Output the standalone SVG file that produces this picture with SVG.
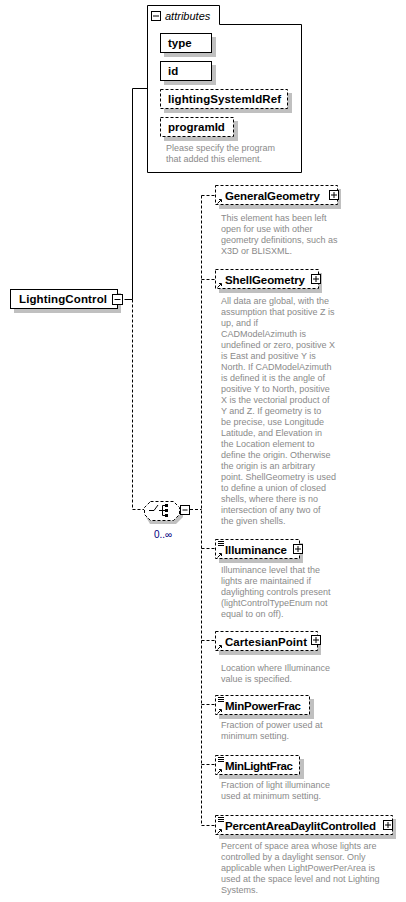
<svg xmlns="http://www.w3.org/2000/svg" width="406" height="902" viewBox="0 0 406 902">
<style>
.bg{fill:#fff}
.sh{fill:#c0c0c0}
.box{fill:#fff;stroke:#000;stroke-width:1}
.dbox{fill:#fff;stroke:#000;stroke-width:1;stroke-dasharray:3,2}
.name{font-family:"Liberation Sans",Arial,sans-serif;font-size:11.5px;font-weight:bold;fill:#000}
.desc{font-family:"Liberation Sans",Arial,sans-serif;font-size:9px;fill:#8a8a8a}
.ln{fill:none;stroke:#000;stroke-width:1}
.dln{fill:none;stroke:#000;stroke-width:1;stroke-dasharray:3,2}
.ic{fill:#fff;stroke:#000;stroke-width:1}
</style>
<rect class="bg" x="0" y="0" width="406" height="902"/>
<g id="connectors">
<path class="ln" d="M124.5,299.5 H132.5 V88.5 H147"/>
<path class="dln" d="M132.5,299.5 V509.5 H144"/>
<path class="dln" d="M190,509.5 H201.5"/>
<path class="dln" d="M201.5,195.5 V825.5"/>
<path class="dln" d="M201.5,195.5 H215"/>
<path class="dln" d="M201.5,279.5 H215"/>
<path class="dln" d="M201.5,548.5 H215"/>
<path class="dln" d="M201.5,640.5 H215"/>
<path class="dln" d="M201.5,704.5 H215"/>
<path class="dln" d="M201.5,764.5 H215"/>
<path class="dln" d="M201.5,825.5 H215"/>
</g>
<g id="attributes">
<path class="ln" d="M147.5,5.5 H219.5 V24.5 H301.5 V172.5 H147.5 Z"/>
<rect class="ic" x="151.5" y="11.5" width="9" height="9"/>
<path class="ln" d="M153,16 H159"/>
<text x="165" y="20" font-family="Liberation Sans,Arial,sans-serif" font-size="11" font-style="italic">attributes</text>
</g>
<g id="attr-type">
<rect class="sh" x="164" y="37" width="52" height="20"/>
<rect class="box" x="160.5" y="33.5" width="51" height="19"/>
<text class="name" x="168" y="47">type</text>
</g>
<g id="attr-id">
<rect class="sh" x="164" y="65" width="52" height="20"/>
<rect class="box" x="160.5" y="61.5" width="51" height="19"/>
<text class="name" x="168" y="75">id</text>
</g>
<g id="attr-lightingSystemIdRef">
<rect class="sh" x="164" y="93" width="128" height="20"/>
<rect class="dbox" x="160.5" y="89.5" width="127" height="19"/>
<text class="name" x="168" y="103" textLength="113">lightingSystemIdRef</text>
</g>
<g id="attr-programId">
<rect class="sh" x="164" y="121" width="74" height="20"/>
<rect class="dbox" x="160.5" y="117.5" width="73" height="19"/>
<text class="name" x="168" y="131">programId</text>
<text class="desc" x="166" y="151">Please specify the program</text>
<text class="desc" x="166" y="162">that added this element.</text>
</g>
<g id="LightingControl">
<rect class="sh" x="14" y="293" width="107" height="20"/>
<rect class="box" x="10.5" y="289.5" width="107" height="19"/>
<text class="name" x="19" y="303" textLength="88">LightingControl</text>
<rect class="ic" x="112.5" y="294.5" width="10" height="10"/>
<path class="ln" d="M114.5,299.5 H120.5"/>
</g>
<g id="choice">
<path class="sh" d="M150,505 H176 L183,511 V517 L176,524 H150 L146,517 V511 Z"/>
<path class="dbox" d="M150.5,501.5 H173.5 L179.5,507.5 V514.5 L173.5,520.5 H150.5 L144.5,514.5 V507.5 Z"/>
<path class="ln" d="M149,510.5 H154 L158,505 M159,510.5 H162.5 M162.5,505.5 V515.5 M162.5,505.5 H165 M162.5,510.5 H165 M162.5,515.5 H165"/>
<rect x="165" y="504" width="3" height="3" fill="#000"/>
<rect x="165" y="509" width="3" height="3" fill="#000"/>
<rect x="165" y="514" width="3" height="3" fill="#000"/>
<rect class="ic" x="180.5" y="505.5" width="9" height="9"/>
<path class="ln" d="M182.5,510 H187.5"/>
<text x="154" y="538" font-family="Liberation Sans,Arial,sans-serif" font-size="10" fill="#000080">0..∞</text>
</g>
<g id="GeneralGeometry">
<rect class="sh" x="219" y="189" width="122" height="20"/>
<rect class="dbox" x="215.5" y="185.5" width="122" height="19"/>
<path class="ln" d="M217.5,203.5 L221,200 M219,199.5 H221.5 V202"/>
<text class="name" x="225" y="200" textLength="95">GeneralGeometry</text>
<rect class="ic" x="329.5" y="190.5" width="9" height="9"/>
<path class="ln" d="M331,195 H337 M334,192 V198"/>
<text class="desc" x="221" y="221">This element has been left</text>
<text class="desc" x="221" y="232">open for use with other</text>
<text class="desc" x="221" y="243">geometry definitions, such as</text>
<text class="desc" x="221" y="254">X3D or BLISXML.</text>
</g>
<g id="ShellGeometry">
<rect class="sh" x="219" y="273" width="103" height="20"/>
<rect class="dbox" x="215.5" y="269.5" width="103" height="19"/>
<path class="ln" d="M217.5,287.5 L221,284 M219,283.5 H221.5 V286"/>
<text class="name" x="225" y="284" textLength="80">ShellGeometry</text>
<rect class="ic" x="311.5" y="274.5" width="9" height="9"/>
<path class="ln" d="M313,279 H319 M316,276 V282"/>
<text class="desc" x="221" y="304">All data are global, with the</text>
<text class="desc" x="221" y="315">assumption that positive Z is</text>
<text class="desc" x="221" y="326">up, and if</text>
<text class="desc" x="221" y="337">CADModelAzimuth is</text>
<text class="desc" x="221" y="348">undefined or zero, positive X</text>
<text class="desc" x="221" y="359">is East and positive Y is</text>
<text class="desc" x="221" y="370">North. If CADModelAzimuth</text>
<text class="desc" x="221" y="381">is defined it is the angle of</text>
<text class="desc" x="221" y="392">positive Y to North, positive</text>
<text class="desc" x="221" y="403">X is the vectorial product of</text>
<text class="desc" x="221" y="414">Y and Z. If geometry is to</text>
<text class="desc" x="221" y="425">be precise, use Longitude</text>
<text class="desc" x="221" y="436">Latitude, and Elevation in</text>
<text class="desc" x="221" y="447">the Location element to</text>
<text class="desc" x="221" y="458">define the origin. Otherwise</text>
<text class="desc" x="221" y="469">the origin is an arbitrary</text>
<text class="desc" x="221" y="480">point. ShellGeometry is used</text>
<text class="desc" x="221" y="491">to define a union of closed</text>
<text class="desc" x="221" y="502">shells, where there is no</text>
<text class="desc" x="221" y="513">intersection of any two of</text>
<text class="desc" x="221" y="524">the given shells.</text>
</g>
<g id="Illuminance">
<rect class="sh" x="219" y="543" width="84" height="20"/>
<rect class="dbox" x="215.5" y="539.5" width="84" height="19"/>
<path class="ln" d="M218,541.5 H224 M218,543.5 H224 M218,545.5 H224"/>
<path class="ln" d="M217.5,557.5 L221,554 M219,553.5 H221.5 V556"/>
<text class="name" x="225" y="554" textLength="62">Illuminance</text>
<rect class="ic" x="293.5" y="544.5" width="9" height="9"/>
<path class="ln" d="M295,549 H301 M298,546 V552"/>
<text class="desc" x="221" y="573">Illuminance level that the</text>
<text class="desc" x="221" y="584">lights are maintained if</text>
<text class="desc" x="221" y="595">daylighting controls present</text>
<text class="desc" x="221" y="606">(lightControlTypeEnum not</text>
<text class="desc" x="221" y="617">equal to on off).</text>
</g>
<g id="CartesianPoint">
<rect class="sh" x="219" y="635" width="102" height="20"/>
<rect class="dbox" x="215.5" y="631.5" width="102" height="19"/>
<path class="ln" d="M217.5,649.5 L221,646 M219,645.5 H221.5 V648"/>
<text class="name" x="225" y="646" textLength="82">CartesianPoint</text>
<rect class="ic" x="311.5" y="635.5" width="9" height="9"/>
<path class="ln" d="M313,640 H319 M316,637 V643"/>
<text class="desc" x="221" y="671">Location where Illuminance</text>
<text class="desc" x="221" y="682">value is specified.</text>
</g>
<g id="MinPowerFrac">
<rect class="sh" x="219" y="699" width="95" height="20"/>
<rect class="dbox" x="215.5" y="695.5" width="94" height="19"/>
<path class="ln" d="M218,697.5 H224 M218,699.5 H224 M218,701.5 H224"/>
<path class="ln" d="M217.5,713.5 L221,710 M219,709.5 H221.5 V712"/>
<text class="name" x="225" y="710" textLength="76">MinPowerFrac</text>
<text class="desc" x="221" y="728">Fraction of power used at</text>
<text class="desc" x="221" y="739">minimum setting.</text>
</g>
<g id="MinLightFrac">
<rect class="sh" x="219" y="759" width="85" height="20"/>
<rect class="dbox" x="215.5" y="755.5" width="84" height="19"/>
<path class="ln" d="M218,757.5 H224 M218,759.5 H224 M218,761.5 H224"/>
<path class="ln" d="M217.5,773.5 L221,770 M219,769.5 H221.5 V772"/>
<text class="name" x="225" y="770" textLength="68">MinLightFrac</text>
<text class="desc" x="221" y="788">Fraction of light illuminance</text>
<text class="desc" x="221" y="799">used at minimum setting.</text>
</g>
<g id="PercentAreaDaylitControlled">
<rect class="sh" x="219" y="819" width="177" height="20"/>
<rect class="dbox" x="215.5" y="815.5" width="177" height="19"/>
<path class="ln" d="M218,817.5 H224 M218,819.5 H224 M218,821.5 H224"/>
<path class="ln" d="M217.5,833.5 L221,830 M219,829.5 H221.5 V832"/>
<text class="name" x="225" y="830" textLength="151">PercentAreaDaylitControlled</text>
<rect class="ic" x="383.5" y="820.5" width="9" height="9"/>
<path class="ln" d="M385,825 H391 M388,822 V828"/>
<text class="desc" x="221" y="849">Percent of space area whose lights are</text>
<text class="desc" x="221" y="860">controlled by a daylight sensor. Only</text>
<text class="desc" x="221" y="871">applicable when LightPowerPerArea is</text>
<text class="desc" x="221" y="882">used at the space level and not Lighting</text>
<text class="desc" x="221" y="893">Systems.</text>
</g>
</svg>
